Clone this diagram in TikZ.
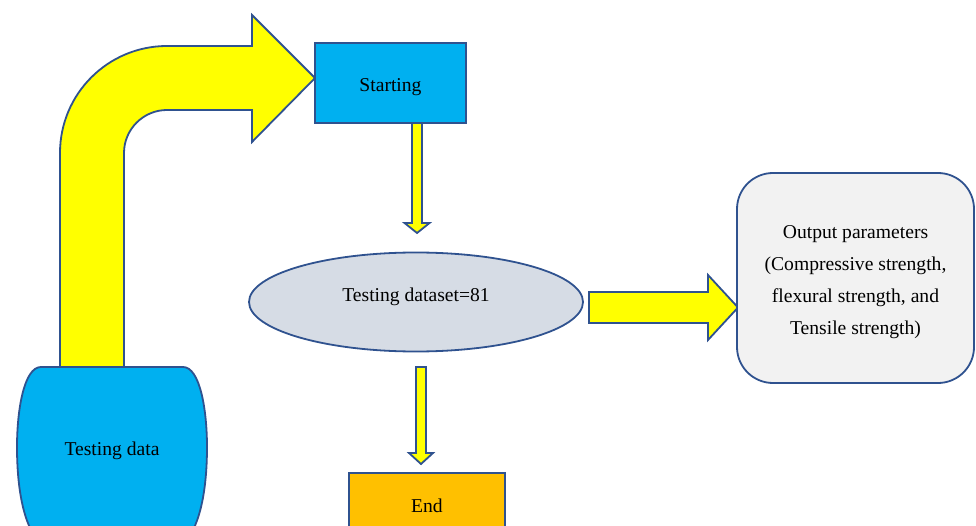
\documentclass[tikz,border=0pt]{standalone}
\usepackage{fontspec}
\setmainfont{Liberation Serif}
\usetikzlibrary{shapes.geometric}
\definecolor{edgeblue}{HTML}{2F528F}
\definecolor{arrowyellow}{HTML}{FFFF00}
\definecolor{cyanfill}{HTML}{00B0F0}
\definecolor{ellfill}{HTML}{D6DCE5}
\definecolor{outfill}{HTML}{F2F2F2}
\definecolor{endfill}{HTML}{FFC000}
\tikzset{
  shapeline/.style={draw=edgeblue, line width=1.8pt, line join=miter},
  blockarrow/.style={shapeline, fill=arrowyellow},
  boxnode/.style={shapeline, rectangle, inner sep=0pt},
  txt/.style={font=\fontsize{19.6}{32}\selectfont, text=black}
}
% vertical block arrow: x-centre, top, head start, tip, half shaft, half head
\newcommand{\vblockarrow}[6]{%
  \draw[blockarrow] (#1-#5,#2) -- (#1+#5,#2) -- (#1+#5,#3) -- (#1+#6,#3)
    -- (#1,#4) -- (#1-#6,#3) -- (#1-#5,#3) -- cycle;}
\begin{document}
\begin{tikzpicture}[x=1pt,y=-1pt]
\useasboundingbox (0,0) rectangle (976,526);
\clip (0,0) rectangle (976,526);

% bent arrow
\draw[blockarrow] (60,367) -- (60,153) .. controls (60,93.9) and (107.9,46) .. (167,46)
  -- (252,46) -- (252,15) -- (315,78) -- (252,142) -- (252,110) -- (167,110)
  .. controls (143.3,110) and (124,129.3) .. (124,153) -- (124,367) -- cycle;

% Testing data barrel
\draw[shapeline, fill=cyanfill] (41,367) -- (183,367)
  .. controls (200,367) and (207,410) .. (207,447)
  .. controls (207,490) and (200,520) .. (190,535) -- (34,535)
  .. controls (24,520) and (17,490) .. (17,447)
  .. controls (17,410) and (24,367) .. (41,367) -- cycle;
\node[txt] (td) at (112,451) {Testing data};

% Starting
\node[boxnode, fill=cyanfill, minimum width=151pt, minimum height=80pt,
  label={[txt, yshift=-4pt]center:Starting}] (start) at (390.5,83) {};

% arrow Starting -> dataset
\vblockarrow{417}{123}{223}{233}{5}{12.5}

% Testing dataset ellipse
\node[shapeline, ellipse, fill=ellfill, minimum width=334pt, minimum height=99pt, inner sep=0pt,
  label={[txt, yshift=5.5pt]center:Testing dataset=81}] (ds) at (416,302) {};

% right arrow dataset -> output
\draw[blockarrow] (589,292) -- (708,292) -- (708,275) -- (738,307.5) -- (708,340)
  -- (708,323) -- (589,323) -- cycle;

% Output box
\node[shapeline, rectangle, rounded corners=36pt, fill=outfill, minimum width=237pt,
  minimum height=210pt, inner sep=0pt,
  label={[txt, align=center, yshift=-4pt]center:Output parameters\\(Compressive strength,\\flexural strength, and\\Tensile strength)}]
  (out) at (855.5,278) {};

% arrow dataset -> End
\vblockarrow{421}{367}{453}{464}{5}{12}

% End
\node[boxnode, fill=endfill, minimum width=156pt, minimum height=60pt,
  label={[txt, yshift=-3pt]center:End}] (end) at (427,503) {};
\end{tikzpicture}
\end{document}
